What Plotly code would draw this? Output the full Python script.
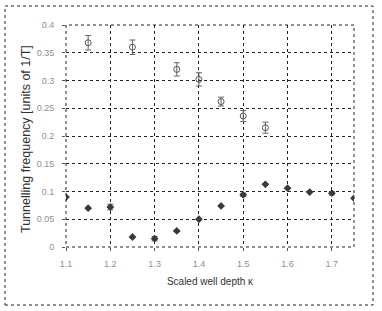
import plotly.graph_objects as go

# Upper series (open symbols with error bars)
x_upper = [1.15, 1.25, 1.35, 1.40, 1.45, 1.50, 1.55]
y_upper = [0.368, 0.360, 0.320, 0.302, 0.262, 0.236, 0.215]
err_upper = [0.013, 0.013, 0.012, 0.012, 0.008, 0.010, 0.010]

# Lower series (filled diamonds)
x_lower = [1.10, 1.15, 1.20, 1.25, 1.30, 1.35, 1.40, 1.45, 1.50, 1.55, 1.60, 1.65, 1.70, 1.75]
y_lower = [0.090, 0.070, 0.072, 0.018, 0.015, 0.029, 0.050, 0.074, 0.094, 0.113, 0.106, 0.099, 0.097, 0.088]
err_lower = [0.0, 0.0, 0.005, 0.0, 0.004, 0.0, 0.0, 0.0, 0.003, 0.0, 0.0, 0.0, 0.003, 0.0]

x_ticks = [1.1, 1.2, 1.3, 1.4, 1.5, 1.6, 1.7]
x_tick_labels = ["1.1", "1.2", "1.3", "1.4", "1.5", "1.6", "1.7"]
y_ticks = [0, 0.05, 0.1, 0.15, 0.2, 0.25, 0.3, 0.35, 0.4]
y_tick_labels = ["0", "0.05", "0.1", "0.15", "0.2", "0.25", "0.3", "0.35", "0.4"]

fig = go.Figure()
fig.add_trace(go.Scatter(
    x=x_upper, y=y_upper, mode="markers",
    marker=dict(symbol="circle-open", size=6, color="#555555", line=dict(width=1)),
    error_y=dict(type="data", array=err_upper, color="#666666", thickness=1, width=3),
    showlegend=False))
fig.add_trace(go.Scatter(
    x=x_lower, y=y_lower, mode="markers",
    marker=dict(symbol="diamond", size=6, color="#3a3a3a"),
    error_y=dict(type="data", array=err_lower, color="#666666", thickness=1, width=3),
    showlegend=False))

L, R, T, B = 66, 28, 25, 64
W, H = 382, 311
pw, ph = W - L - R, H - T - B

def px(x):
    return (x - L) / pw

def py(y):
    return (H - B - y) / ph

fig.update_layout(
    width=W, height=H,
    margin=dict(l=L, r=R, t=T, b=B),
    paper_bgcolor="white", plot_bgcolor="white",
    font=dict(family="Liberation Sans, Arial, sans-serif", color="#222222"),
    xaxis=dict(range=[1.1, 1.75], tickvals=x_ticks, ticktext=x_tick_labels,
               showgrid=True, gridcolor="#222222", griddash="dot", gridwidth=1,
               zeroline=False, showline=False, ticks="outside", ticklen=3,
               tickcolor="#555555", tickfont=dict(size=9, color="#909090"),
               ticklabelstandoff=5,
               title=dict(text="Scaled well depth κ", font=dict(size=10, color="#333333"), standoff=10)),
    yaxis=dict(range=[0, 0.4], tickvals=y_ticks, ticktext=y_tick_labels,
               showgrid=True, gridcolor="#222222", griddash="dot", gridwidth=1,
               zeroline=False, showline=False, ticks="outside", ticklen=3,
               tickcolor="#555555", tickfont=dict(size=9, color="#909090"),
               ticklabelstandoff=6),
    annotations=[
        dict(text="Tunnelling frequency [units of 1/T]", textangle=-90,
             xref="paper", yref="paper", x=px(26), y=py(139),
             xanchor="center", yanchor="middle", showarrow=False,
             font=dict(size=12.5, color="#333333")),
    ],
    shapes=[
        dict(type="rect", xref="paper", yref="paper", x0=0, y0=0, x1=1, y1=1,
             line=dict(color="#222222", width=1, dash="dot"), layer="above"),
        dict(type="rect", xref="paper", yref="paper",
             x0=px(5), x1=px(373), y0=py(305), y1=py(6),
             line=dict(color="#222222", width=1, dash="dot")),
    ],
)

fig.write_html("out.html", config={"displayModeBar": False},
               post_script="document.body.style.margin='0';document.body.style.padding='0';")
